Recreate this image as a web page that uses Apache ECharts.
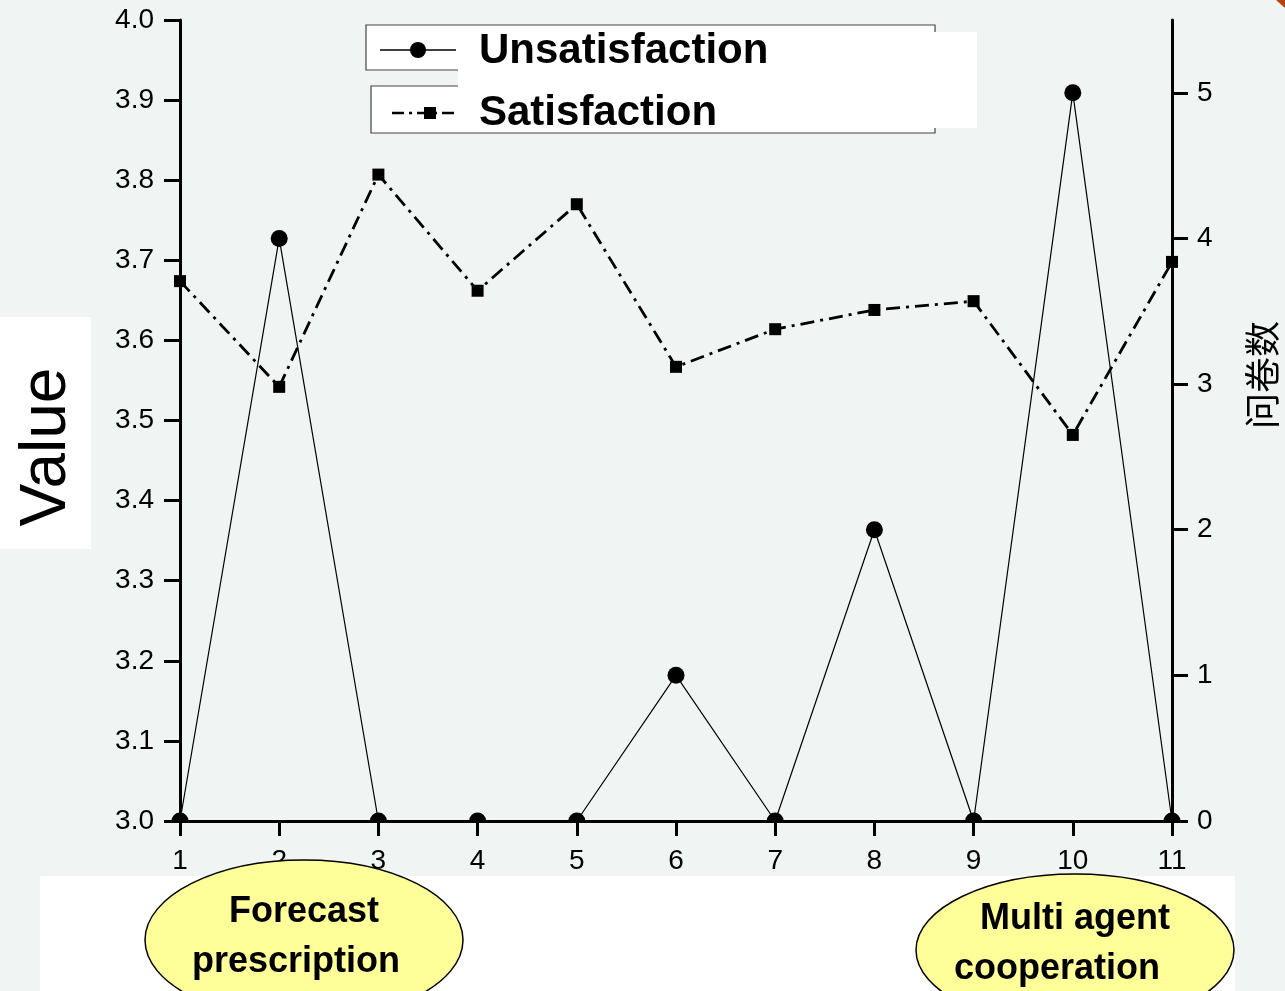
<!DOCTYPE html>
<html>
<head>
<meta charset="utf-8">
<script src="https://cdn.jsdelivr.net/npm/echarts@6/dist/echarts.min.js"></script>
<style>
html,body{margin:0;padding:0;background:#f0f4f3;}
#chart{width:1285px;height:991px;}
</style>
</head>
<body>
<div id="chart"></div>
<script>
var categories = ['1','2','3','4','5','6','7','8','9','10','11'];
var satisfaction = [3.674, 3.542, 3.807, 3.662, 3.770, 3.567, 3.614, 3.638, 3.649, 3.482, 3.698];
var unsatisfaction = [0, 4, 0, 0, 0, 1, 0, 2, 0, 5, 0];
var leftTicks = [3.0, 3.1, 3.2, 3.3, 3.4, 3.5, 3.6, 3.7, 3.8, 3.9, 4.0];
var rightTicks = [0, 1, 2, 3, 4, 5];
var seriesNames = ['Unsatisfaction', 'Satisfaction'];
var leftName = 'Value';
var rightName = '问卷数';
var notes = [['Forecast', 'prescription'], ['Multi agent', 'cooperation']];

var FONT = '"Liberation Sans", Arial, sans-serif';
var BG = '#f0f4f3';
var chart = echarts.init(document.getElementById('chart'));

var axisCommon = {
  axisLine: {show: true, lineStyle: {color: '#000', width: 3}},
  axisTick: {show: true, length: 16, lineStyle: {color: '#000', width: 3}},
  splitLine: {show: false},
  axisLabel: {color: '#000', fontSize: 28, fontFamily: FONT}
};

chart.setOption({
  backgroundColor: BG,
  animation: false,
  grid: {left: 180, right: 113, top: 20, bottom: 170},
  xAxis: {
    type: 'category', data: categories, boundaryGap: false, z: 5,
    axisLine: axisCommon.axisLine,
    axisTick: {show: true, length: 15, alignWithLabel: true, lineStyle: {color: '#000', width: 3}},
    axisLabel: Object.assign({}, axisCommon.axisLabel, {margin: 26}),
    splitLine: {show: false}
  },
  yAxis: [
    {
      type: 'value', min: 3.0, max: 4.0, interval: 0.1, position: 'left', z: 5,
      axisLine: axisCommon.axisLine,
      axisTick: axisCommon.axisTick,
      splitLine: {show: false},
      axisLabel: Object.assign({}, axisCommon.axisLabel, {
        margin: 26,
        customValues: leftTicks,
        formatter: function (v) { return Number(v).toFixed(1); }
      })
    },
    {
      type: 'value', min: 0, max: 5.5, interval: 1, position: 'right', z: 5,
      axisLine: axisCommon.axisLine,
      axisTick: Object.assign({}, axisCommon.axisTick, {customValues: rightTicks}),
      splitLine: {show: false},
      axisLabel: Object.assign({}, axisCommon.axisLabel, {margin: 25, customValues: rightTicks})
    }
  ],
  series: [
    {
      name: seriesNames[0], type: 'line', yAxisIndex: 1, data: unsatisfaction,
      symbol: 'circle', symbolSize: 17, z: 2,
      lineStyle: {color: '#000', width: 1.2},
      itemStyle: {color: '#000'}
    },
    {
      name: seriesNames[1], type: 'line', yAxisIndex: 0, data: satisfaction,
      symbol: 'rect', symbolSize: 12, z: 2,
      lineStyle: {color: '#000', width: 2.8, type: [14, 6, 3, 6]},
      itemStyle: {color: '#000'}
    }
  ],
  graphic: [
    {type: 'rect', z: 3, shape: {x: 165, y: 823, width: 1022, height: 24}, style: {fill: BG}},
    {type: 'polygon', z: 100, shape: {points: [[1276, 0], [1285, 0], [1285, 8]]}, style: {fill: '#b8410c'}},
    {type: 'rect', z: 100, shape: {x: 366, y: 25, width: 569, height: 45}, style: {fill: '#fff', stroke: '#444', lineWidth: 1.2}},
    {type: 'rect', z: 100, shape: {x: 371, y: 86, width: 564, height: 47}, style: {fill: '#fff', stroke: '#444', lineWidth: 1.2}},
    {type: 'line', z: 101, shape: {x1: 380, y1: 50, x2: 456, y2: 50}, style: {stroke: '#000', lineWidth: 1.3}},
    {type: 'circle', z: 102, shape: {cx: 418, cy: 50, r: 8}, style: {fill: '#000'}},
    {type: 'line', z: 101, shape: {x1: 392, y1: 113, x2: 458, y2: 113}, style: {stroke: '#000', lineWidth: 2.5, lineDash: [12, 5, 3, 5]}},
    {type: 'rect', z: 102, shape: {x: 424, y: 107, width: 12, height: 12}, style: {fill: '#000'}},
    {type: 'rect', z: 103, shape: {x: 458, y: 32, width: 519, height: 96}, style: {fill: '#fff'}},
    {type: 'text', z: 104, style: {x: 479, y: 51, text: seriesNames[0], font: 'bold 42px ' + FONT, fill: '#000', verticalAlign: 'middle'}},
    {type: 'text', z: 104, style: {x: 479, y: 113, text: seriesNames[1], font: 'bold 42px ' + FONT, fill: '#000', verticalAlign: 'middle'}},
    {type: 'rect', z: 100, shape: {x: 0, y: 317, width: 91, height: 232}, style: {fill: '#fff'}},
    {type: 'text', z: 101, x: 47, y: 447, rotation: Math.PI / 2,
      style: {x: 0, y: 0, text: leftName, font: '64px ' + FONT, fill: '#000', align: 'center', verticalAlign: 'middle'}},
    {type: 'text', z: 101, x: 1262, y: 375, rotation: Math.PI / 2,
      style: {x: 0, y: 0, text: rightName, font: '36px "Noto Sans CJK SC", sans-serif', fill: '#000', align: 'center', verticalAlign: 'middle'}},
    {type: 'rect', z: 100, shape: {x: 40, y: 876, width: 1195, height: 115}, style: {fill: '#fff'}},
    {type: 'ellipse', z: 101, shape: {cx: 304, cy: 940, rx: 159, ry: 80}, style: {fill: '#ffff99', stroke: '#000', lineWidth: 1.5}},
    {type: 'ellipse', z: 101, shape: {cx: 1075, cy: 950, rx: 159, ry: 76}, style: {fill: '#ffff99', stroke: '#000', lineWidth: 1.5}},
    {type: 'text', z: 102, style: {x: 304, y: 912, text: notes[0][0], font: 'bold 36px ' + FONT, fill: '#000', align: 'center', verticalAlign: 'middle'}},
    {type: 'text', z: 102, style: {x: 296, y: 962, text: notes[0][1], font: 'bold 36px ' + FONT, fill: '#000', align: 'center', verticalAlign: 'middle'}},
    {type: 'text', z: 102, style: {x: 1075, y: 919, text: notes[1][0], font: 'bold 36px ' + FONT, fill: '#000', align: 'center', verticalAlign: 'middle'}},
    {type: 'text', z: 102, style: {x: 1057, y: 969, text: notes[1][1], font: 'bold 36px ' + FONT, fill: '#000', align: 'center', verticalAlign: 'middle'}}
  ]
});
</script>
</body>
</html>
